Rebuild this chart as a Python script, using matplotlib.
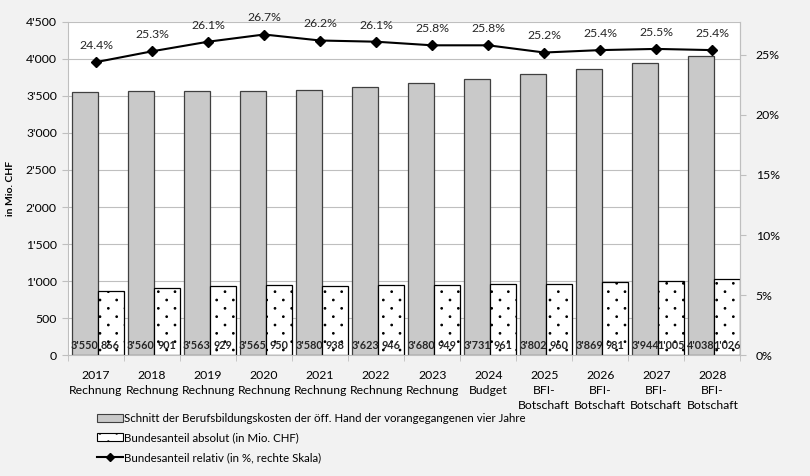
import numpy as np
import matplotlib as mpl
mpl.use('Agg')
import matplotlib.pyplot as plt
import matplotlib.hatch as mhatch
from matplotlib.path import Path
from matplotlib.patches import Patch
from matplotlib.lines import Line2D
from matplotlib.ticker import FuncFormatter, MultipleLocator

plt.rcParams['font.family'] = ['Lato', 'DejaVu Sans']

years = ['2017', '2018', '2019', '2020', '2021', '2022', '2023', '2024',
         '2025', '2026', '2027', '2028']
kinds = ['Rechnung'] * 7 + ['Budget'] + ['BFI-\nBotschaft'] * 4
avg_costs = [3550, 3560, 3563, 3565, 3580, 3623, 3680, 3731, 3802, 3869, 3944, 4038]
fed_abs = [866, 901, 929, 950, 938, 946, 949, 961, 960, 981, 1005, 1026]
fed_rel = [24.4, 25.3, 26.1, 26.7, 26.2, 26.1, 25.8, 25.8, 25.2, 25.4, 25.5, 25.4]

labels_leg = ['Schnitt der Berufsbildungskosten der öff. Hand der vorangegangenen vier Jahre',
              'Bundesanteil absolut (in Mio. CHF)',
              'Bundesanteil relativ (in %, rechte Skala)']


class SparseDots(mhatch.HatchPatternBase):
    # small staggered dots, rows twice as close as the dots within a row
    def __init__(self, hatch, density):
        n = hatch.count('.') * density
        circ = Path.unit_circle()
        self.circ_v = circ.vertices * 0.008
        self.circ_c = circ.codes
        self.pts = []
        for row in range(2 * n + 1):
            yy = row / (2 * n) if n else 0
            if row % 2 == 0:
                xs = np.linspace(0, 1, n + 1)
            else:
                xs = np.linspace(0.5 / n, 1 - 0.5 / n, n)
            self.pts += [(xx, yy) for xx in xs]
        self.num_vertices = len(self.pts) * len(self.circ_v) if n else 0

    def set_vertices_and_codes(self, vertices, codes):
        vertices[:] = np.concatenate([self.circ_v + p for p in self.pts])
        codes[:] = np.tile(self.circ_c, len(self.pts))


mhatch._hatch_types = [SparseDots if t is mhatch.SmallFilledCircles else t
                       for t in mhatch._hatch_types]
plt.rcParams['hatch.linewidth'] = 0.8


def swiss(v, pos=None):
    return f'{int(v):,}'.replace(',', "'")


bg = '#f2f2f2'
grid_c = '#bfbfbf'
gray = '#c9c9c9'
fig = plt.figure(figsize=(8.1, 4.76), dpi=100, facecolor=bg)
ax = fig.add_axes([0.084, 0.254, 0.83, 0.700])
ax.set_facecolor('white')

x = np.arange(len(years))
w = 0.46
ax.bar(x - w / 2 + 0.03, avg_costs, width=w, color=gray, edgecolor='#404040', lw=0.9, zorder=2)
ax.bar(x + w / 2 + 0.03, fed_abs, width=w, color='white', edgecolor='black', hatch='.', lw=0.9, zorder=2)

# value labels sit at the foot of each bar
for i in range(len(years)):
    ax.annotate(swiss(avg_costs[i]), (x[i] - w / 2 + 0.03, 0), xytext=(0, 3), textcoords='offset points',
                ha='center', va='bottom', fontsize=7.8, fontweight='bold', color='#262626', zorder=4)
    ax.annotate(swiss(fed_abs[i]), (x[i] + w / 2 + 0.03, 0), xytext=(0, 3), textcoords='offset points',
                ha='center', va='bottom', fontsize=7.8, fontweight='bold', color='#262626', zorder=4)

ax.set_xlim(-0.5, len(years) - 0.5)
ax.set_ylim(0, 4500)
ax.yaxis.set_major_locator(MultipleLocator(500))
ax.yaxis.set_major_formatter(FuncFormatter(swiss))
ax.grid(axis='y', color=grid_c, lw=0.8, zorder=0)
ax.set_axisbelow(True)
ax.set_xticks(x)
ax.set_xticklabels([f'{y}\n{k}' for y, k in zip(years, kinds)], fontsize=8.8, linespacing=1.4)
ax.set_xticks(np.arange(-0.5, len(years)), minor=True)
ax.tick_params(axis='x', which='major', length=0, pad=11)
ax.tick_params(axis='x', which='minor', length=4, color=grid_c)
ax.tick_params(axis='y', length=4, color=grid_c, labelsize=8.8, pad=4)
ax.set_ylabel('in Mio. CHF', fontsize=7.5, fontweight='bold', labelpad=8)
ax.spines['top'].set_visible(False)
for s in ['left', 'right', 'bottom']:
    ax.spines[s].set_color(grid_c)

ax2 = ax.twinx()
rel = np.array(fed_rel) / 100
ax2.plot(x, rel, color='black', lw=1.5, marker='D', ms=5, zorder=5)
for i in range(len(years)):
    ax2.annotate(f'{fed_rel[i]:.1f}%', (x[i], rel[i]), xytext=(0, 8), textcoords='offset points',
                 ha='center', va='bottom', fontsize=8.8, color='#262626')
ax2.set_ylim(0, 0.2775)
ax2.yaxis.set_major_locator(MultipleLocator(0.05))
ax2.yaxis.set_major_formatter(FuncFormatter(lambda v, p: f'{v * 100:.0f}%'))
ax2.tick_params(axis='y', length=4, color=grid_c, labelsize=8.8, pad=7)
for s in ['top', 'left', 'bottom']:
    ax2.spines[s].set_visible(False)
ax2.spines['right'].set_color(grid_c)

handles = [Patch(facecolor=gray, edgecolor='#404040', lw=0.8),
           Patch(facecolor='white', edgecolor='black', hatch='.', lw=0.8),
           Line2D([], [], color='black', lw=1.5, marker='D', ms=4)]
fig.legend(handles, labels_leg, loc='upper left', bbox_to_anchor=(0.12, 0.133), frameon=False,
           fontsize=8.3, handlelength=2.2, handleheight=0.7, handletextpad=0.1, labelspacing=0.75,
           borderaxespad=0, borderpad=0)

fig.savefig('out.png', dpi=100, facecolor=bg)
